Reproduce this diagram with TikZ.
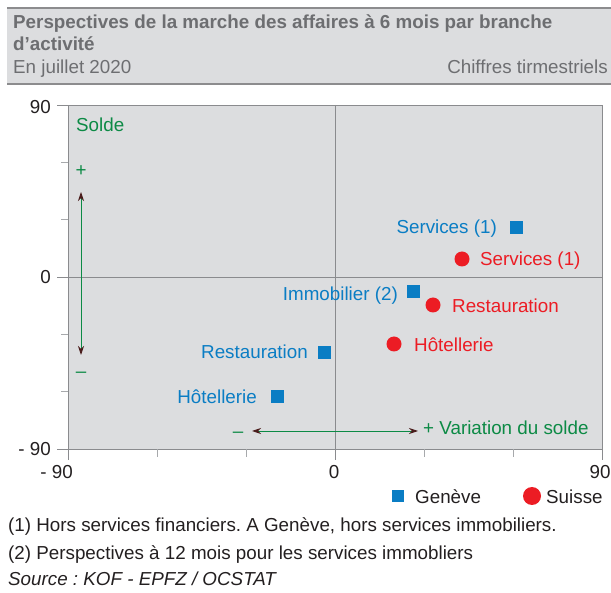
\documentclass[tikz,border=0pt]{standalone}
\usepackage{fontspec}
\setmainfont{Liberation Sans}
\usetikzlibrary{arrows.meta}
\definecolor{bg}{HTML}{DCDDDF}
\definecolor{hdrline}{HTML}{8C8C8E}
\definecolor{titlegrey}{HTML}{6D6E71}
\definecolor{axisgrey}{HTML}{8A8B8E}
\definecolor{ticklight}{HTML}{A7A9AC}
\definecolor{ink}{HTML}{231F20}
\definecolor{gblue}{HTML}{0A7DC4}
\definecolor{sred}{HTML}{EC1C24}
\definecolor{sgreen}{HTML}{0C8A45}
\definecolor{tipdark}{HTML}{4A1C1C}
\frenchspacing
\begin{document}
\begin{tikzpicture}[x=1pt,y=-1pt,
  font=\fontsize{18.8}{22}\selectfont,
  lbl/.style={inner sep=0pt, text height=13.4pt, text depth=0pt},
  gsq/.style={rectangle, fill=gblue, inner sep=0pt, minimum size=13pt},
  sdot/.style={circle, fill=sred, inner sep=0pt, minimum size=15pt},
  gtext/.style={lbl, text=gblue},
  stext/.style={lbl, text=sred},
  grtext/.style={lbl, text=sgreen},
  axlbl/.style={lbl, text=ink},
  dblarrow/.style={sgreen, line width=0.9pt,
    {Stealth[length=9pt,width=6pt,inset=3pt,color=tipdark]}-{Stealth[length=9pt,width=6pt,inset=3pt,color=tipdark]}},
  majtick/.style={axisgrey, line width=0.9pt},
  mintick/.style={ticklight, line width=0.9pt}]
\useasboundingbox (0,0) rectangle (611,593);
% header
\fill[bg] (7,8) rectangle (611,84);
\draw[hdrline, line width=1.3pt] (7,8) -- (611,8);
\draw[hdrline, line width=1.3pt] (7,84) -- (611,84);
\node[lbl, anchor=west, text=titlegrey, font=\fontsize{18.8}{22}\selectfont\bfseries] (title1) at (13,22) {Perspectives de la marche des affaires à 6 mois par branche};
\node[lbl, anchor=west, text=titlegrey, font=\fontsize{18.8}{22}\selectfont\bfseries] (title2) at (13,44) {d’activité};
\node[lbl, anchor=west, text=titlegrey] (subtitle) at (13,67) {En juillet 2020};
\node[lbl, anchor=east, text=titlegrey] (freq) at (608,67) {Chiffres tirmestriels};
% plot area
\fill[bg] (68,105) rectangle (602,449);
\draw[axisgrey, line width=0.9pt] (335,105) -- (335,449);
\draw[axisgrey, line width=0.9pt] (68,277) -- (602,277);
\draw[axisgrey, line width=0.9pt] (68,105) rectangle (602,449);
% y ticks
\foreach \yy in {105,277,449} \draw[majtick] (57,\yy) -- (68,\yy);
\foreach \yy in {162.3,219.7,334.3,391.7} \draw[mintick] (61,\yy) -- (68,\yy);
% x ticks
\foreach \xx in {68,335,602} \draw[majtick] (\xx,449) -- (\xx,460);
\foreach \xx in {157,246,424,513} \draw[mintick] (\xx,449) -- (\xx,457);
% axis labels
\node[axlbl, anchor=east] (y90) at (51,107) {90};
\node[axlbl, anchor=east] (y0) at (51,277) {0};
\node[axlbl, anchor=east] (ym90) at (51,449) {- 90};
\node[axlbl, anchor=east] (xm90) at (73,472) {- 90};
\node[axlbl] (x0) at (334,472) {0};
\node[axlbl] (x90) at (600,472) {90};
% Geneve points
\node[gsq] (gserv) at (516,228) {};
\node[gsq] (gimmo) at (413,292) {};
\node[gsq] (grest) at (324,353) {};
\node[gsq] (ghot) at (277,397) {};
\node[gtext, anchor=east] (lgserv) at (497,227) {Services (1)};
\node[gtext, anchor=east] (lgimmo) at (398,294) {Immobilier (2)};
\node[gtext, anchor=east] (lgrest) at (308,352) {Restauration};
\node[gtext, anchor=east] (lghot) at (257,397) {Hôtellerie};
% Suisse points
\node[sdot] (sserv) at (462,259) {};
\node[sdot] (srest) at (433,305) {};
\node[sdot] (shot) at (394,344) {};
\node[stext, anchor=west] (lsserv) at (480,259) {Services (1)};
\node[stext, anchor=west] (lsrest) at (452,306) {Restauration};
\node[stext, anchor=west] (lshot) at (414,345) {Hôtellerie};
% green annotations
\node[grtext, anchor=west] (solde) at (76,125) {Solde};
\node[grtext] (vplus) at (81,170) {+};
\node[grtext] (vminus) at (81,371) {–};
\coordinate (vtop) at (81,192);
\coordinate (vbot) at (81,355);
\draw[dblarrow] (vbot) -- (vtop);
\node[grtext] (hminus) at (238,431) {–};
\coordinate (hleft) at (252,431);
\coordinate (hright) at (418,431);
\draw[dblarrow] (hleft) -- (hright);
\node[grtext, anchor=west] (hplus) at (423,428) {+ Variation du solde};
% legend
\node[gsq, minimum size=12pt] (leggen) at (398,496) {};
\node[axlbl, anchor=west] (leggentxt) at (415,497) {Genève};
\node[sdot, minimum size=18pt] (legsui) at (532,496) {};
\node[axlbl, anchor=west] (legsuitxt) at (546,497) {Suisse};
% footnotes
\node[axlbl, anchor=west] (fn1) at (8,525) {(1) Hors services financiers. A Genève, hors services immobiliers.};
\node[axlbl, anchor=west] (fn2) at (8,552.5) {(2) Perspectives à 12 mois pour les services immobliers};
\node[axlbl, anchor=west, font=\fontsize{18.8}{22}\selectfont\itshape] (src) at (8,579) {Source : KOF - EPFZ / OCSTAT};
\end{tikzpicture}
\end{document}
